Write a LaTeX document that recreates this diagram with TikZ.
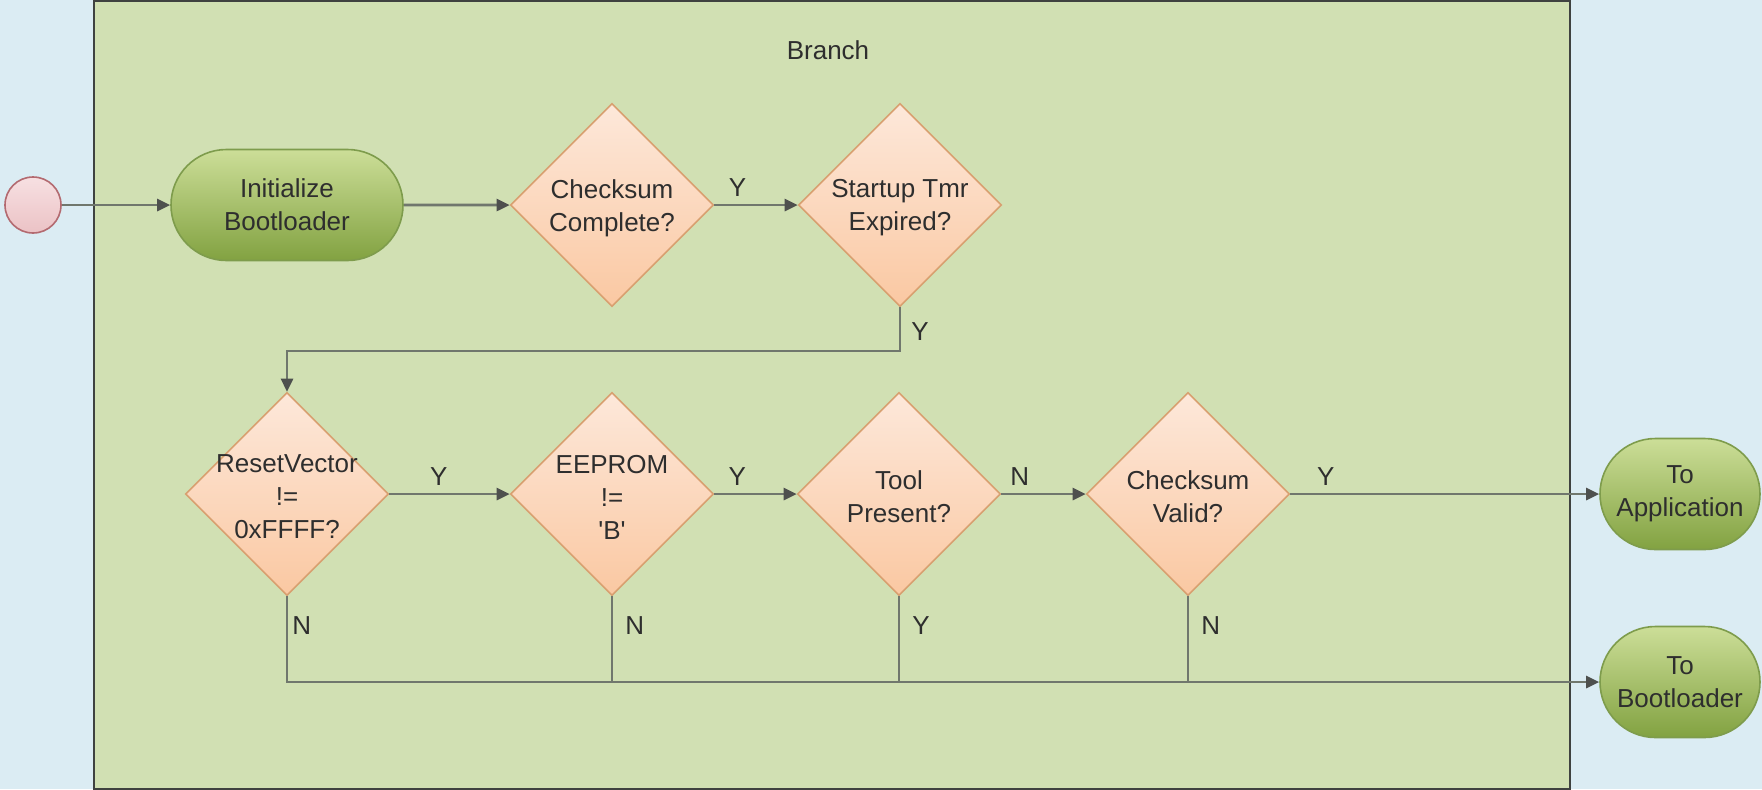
\documentclass[tikz,border=0pt]{standalone}
\usepackage{fontspec}
\setmainfont{Liberation Sans}
\usepackage{tikz}
\usetikzlibrary{arrows.meta,shapes.geometric,shapes.misc}
\definecolor{Sky}{HTML}{DBECF3}
\definecolor{Lane}{HTML}{D1E0B3}
\definecolor{LaneLine}{HTML}{3F4240}
\definecolor{Wire}{HTML}{70776D}
\definecolor{Tip}{HTML}{4E504E}
\definecolor{Ink}{HTML}{2E2E2E}
\definecolor{PeachTop}{HTML}{FDE8DA}
\definecolor{PeachBot}{HTML}{FAC8A2}
\definecolor{PeachLine}{HTML}{D8A070}
\definecolor{LeafTop}{HTML}{CCDE98}
\definecolor{LeafBot}{HTML}{82A241}
\definecolor{LeafLine}{HTML}{7E9C4C}
\definecolor{RoseTop}{HTML}{F7E0E2}
\definecolor{RoseBot}{HTML}{EBC2C5}
\definecolor{RoseLine}{HTML}{B36A70}

\begin{document}
\begin{tikzpicture}[
  x=0.5pt,y=-0.5pt,
  font=\fontsize{13}{16.5}\selectfont,text=Ink,
  startpoint/.style={circle,draw=RoseLine,line width=0.8pt,top color=RoseTop,bottom color=RoseBot,minimum size=28pt,inner sep=0pt},
  terminal/.style={rounded rectangle,draw=LeafLine,line width=0.8pt,top color=LeafTop,bottom color=LeafBot,minimum height=55.5pt,inner sep=0pt,align=center},
  decision/.style={diamond,draw=PeachLine,line width=0.8pt,top color=PeachTop,bottom color=PeachBot,minimum width=101.5pt,minimum height=101.5pt,inner sep=0pt},
  dtext/.style={align=center,text=Ink,yshift=-1.5pt},
  wire/.style={draw=Wire,line width=1.3pt},
  arrow/.style={wire,-{Triangle[length=6.5pt,width=6pt,color=Tip]}},
  lbl/.style={inner sep=2pt}
]
\useasboundingbox (0,0) rectangle (1762,789);
\fill[Sky] (0,0) rectangle (1762,789);
% swimlane
\fill[Lane] (94,1) rectangle (1570,789);
\draw[LaneLine,line width=1.3pt] (94,1) rectangle (1570,789);
\node (branch) at (828,50) {Branch};

% upper row
\node[startpoint] (s) at (33,205) {};
\node[terminal,minimum width=116pt] (init) at (287,205) {Initialize\\Bootloader};
\node[decision,label={[dtext]center:Checksum\\Complete?}] (cc) at (612,205) {};
\node[decision,label={[dtext]center:Startup Tmr\\Expired?}] (st) at (900,205) {};
\coordinate (bend) at (900,351);

% lower row
\node[decision,label={[dtext]center:ResetVector\\!=\\0xFFFF?}] (rv) at (287,494) {};
\node[decision,label={[dtext]center:EEPROM\\!=\\\textquotesingle B\textquotesingle}] (ee) at (612,494) {};
\node[decision,label={[dtext]center:Tool\\Present?}] (tp) at (899,494) {};
\node[decision,label={[dtext]center:Checksum\\Valid?}] (cv) at (1188,494) {};

% exits
\node[terminal,minimum width=80pt] (app) at (1680,494) {To\\Application};
\node[terminal,minimum width=80pt] (boot) at (1680,682) {To\\Bootloader};

\draw[arrow] (s) -- (init);
\draw[arrow] (init) -- (cc);
\draw[arrow] (cc) -- node[lbl,above=1.5pt,pos=0.28] {Y} (st);
\draw[arrow] (st.south) -- node[lbl,right=3pt,pos=0.55] {Y} (bend) -| (rv.north);
\draw[arrow] (rv) -- node[lbl,above=1.5pt,pos=0.41] {Y} (ee);
\draw[arrow] (ee) -- node[lbl,above=1.5pt,pos=0.28] {Y} (tp);
\draw[arrow] (tp) -- node[lbl,above=1.5pt,pos=0.22] {N} (cv);
\draw[arrow] (cv) -- node[lbl,above=1.5pt,pos=0.115] {Y} (app);

% fall-through to the bootloader
\draw[arrow] (rv.south) |- node[lbl,right=0pt,pos=0.17] {N} (boot);
\draw[wire] (ee.south) -- node[lbl,right=4pt,pos=0.34] {N} (ee.south |- boot);
\draw[wire] (tp.south) -- node[lbl,right=4pt,pos=0.34] {Y} (tp.south |- boot);
\draw[wire] (cv.south) -- node[lbl,right=4pt,pos=0.34] {N} (cv.south |- boot);
\end{tikzpicture}
\end{document}
